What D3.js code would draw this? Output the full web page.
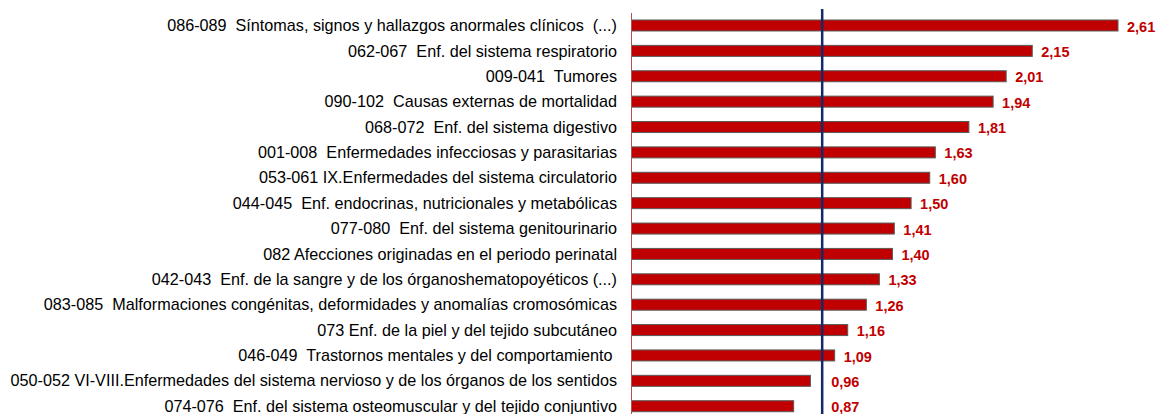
<!DOCTYPE html>
<head>
  <meta charset="utf-8">
  <script src="https://d3js.org/d3.v7.min.js"></script>
  <style>
    body { margin:0; background:#fff; }
    text { font-family: "Liberation Sans", Arial, sans-serif; }
  </style>
</head>
<body>
  <script>
    // categories, top to bottom
    var categories = [
      "086-089  Síntomas, signos y hallazgos anormales clínicos  (...)",
      "062-067  Enf. del sistema respiratorio",
      "009-041  Tumores",
      "090-102  Causas externas de mortalidad",
      "068-072  Enf. del sistema digestivo",
      "001-008  Enfermedades infecciosas y parasitarias",
      "053-061 IX.Enfermedades del sistema circulatorio",
      "044-045  Enf. endocrinas, nutricionales y metabólicas",
      "077-080  Enf. del sistema genitourinario",
      "082 Afecciones originadas en el periodo perinatal",
      "042-043  Enf. de la sangre y de los órganoshematopoyéticos (...)",
      "083-085  Malformaciones congénitas, deformidades y anomalías cromosómicas",
      "073 Enf. de la piel y del tejido subcutáneo",
      "046-049  Trastornos mentales y del comportamiento ",
      "050-052 VI-VIII.Enfermedades del sistema nervioso y de los órganos de los sentidos",
      "074-076  Enf. del sistema osteomuscular y del tejido conjuntivo"
    ];
    var values = [2.61, 2.15, 2.01, 1.94, 1.81, 1.63, 1.60, 1.50, 1.41, 1.40, 1.33, 1.26, 1.16, 1.09, 0.96, 0.87];
    var refValue = 1.023;   // vertical reference line

    var width = 1156, height = 414;
    var barH = 11;

    var svg = d3.select('body').append('svg')
      .attr('width', width)
      .attr('height', height);

    var x = d3.scaleLinear().domain([0, 2.61]).range([631.5, 1118]);
    var y = d3.scalePoint().domain(categories).range([12.8, 418.9]).padding(0.5);

    var fmt = function(v) { return d3.format('.2f')(v).replace('.', ','); };

    // category labels
    svg.selectAll('text.cat')
      .data(categories)
      .enter().append('text')
      .attr('class', 'cat')
      .attr('x', 617)
      .attr('y', d => y(d))
      .attr('dy', '0.35em')
      .attr('text-anchor', 'end')
      .style('white-space', 'pre')
      .style('font-size', '16.2px')
      .style('fill', '#000')
      .text(d => d);

    // bars
    svg.selectAll('rect.bar')
      .data(values)
      .enter().append('rect')
      .attr('class', 'bar')
      .attr('x', x(0))
      .attr('y', (d, i) => y(categories[i]) - barH / 2)
      .attr('width', d => x(d) - x(0))
      .attr('height', barH)
      .style('fill', '#c00000')
      .style('stroke', '#5a5a5a')
      .style('stroke-width', 1);

    // axis line
    svg.append('line')
      .attr('x1', x(0)).attr('x2', x(0))
      .attr('y1', 13).attr('y2', height)
      .style('stroke', '#b05050')
      .style('stroke-width', 1);

    // reference line
    var xr = x(refValue);
    svg.append('line')
      .attr('x1', xr).attr('x2', xr)
      .attr('y1', 9).attr('y2', height)
      .style('stroke', '#14286a')
      .style('stroke-width', 2.5);

    // value labels
    svg.selectAll('text.val')
      .data(values)
      .enter().append('text')
      .attr('class', 'val')
      .attr('x', d => Math.max(x(d) + 9, xr + 9))
      .attr('y', (d, i) => y(categories[i]) + 1)
      .attr('dy', '0.35em')
      .style('font-size', '14.5px')
      .style('font-weight', 'bold')
      .style('fill', '#c00000')
      .text(d => fmt(d));
  </script>
</body>
